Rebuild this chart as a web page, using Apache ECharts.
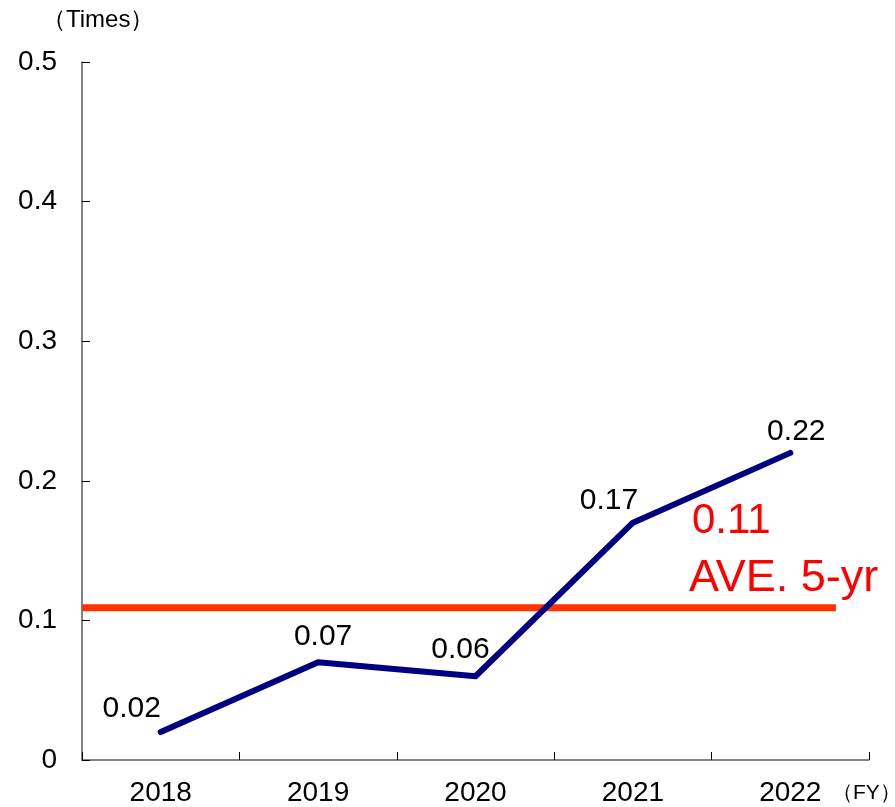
<!DOCTYPE html>
<html>
<head>
<meta charset="utf-8">
<script src="https://cdn.jsdelivr.net/npm/echarts@6/dist/echarts.min.js"></script>
<style>html,body{margin:0;padding:0;background:#fff}#c{width:895px;height:807px}</style>
</head>
<body>
<div id="c"></div>
<script>
const categories = ['2018', '2019', '2020', '2021', '2022'];
const values = [0.02, 0.07, 0.06, 0.17, 0.22];
const valueLabels = ['0.02', '0.07', '0.06', '0.17', '0.22'];
const yTicks = [0, 0.1, 0.2, 0.3, 0.4, 0.5];
const avgValue = 0.109;
const avgSpan = [0, 4.79];
const avgText = ['0.11', 'AVE. 5-yr'];

const FONT = '"Liberation Sans", Arial, sans-serif';
const labelOffsets = [[-29, -8], [5, -10], [-15, -11], [-24, -6], [6, -6]];

const chart = echarts.init(document.getElementById('c'));
chart.setOption({
  animation: false,
  textStyle: { fontFamily: FONT },
  grid: { left: 82, right: 26, top: 62, bottom: 45, containLabel: false },
  xAxis: [{
    type: 'category',
    data: categories,
    boundaryGap: true,
    axisLine: { lineStyle: { color: '#595959', width: 1.5 } },
    axisTick: { show: true, inside: true, length: 8, lineStyle: { color: '#000' } },
    axisLabel: { fontSize: 28, color: '#000', margin: 19, fontFamily: FONT },
    splitLine: { show: false }
  }, {
    type: 'value',
    min: 0, max: 5,
    show: false
  }],
  yAxis: {
    type: 'value',
    min: 0, max: 0.5, interval: 0.1,
    axisLine: { show: true, lineStyle: { color: '#595959', width: 1.5 } },
    axisTick: { show: true, inside: true, length: 8, lineStyle: { color: '#000' } },
    axisLabel: { fontSize: 28, color: '#000', margin: 25, fontFamily: FONT,
      formatter: v => { const t = yTicks.find(x => Math.abs(x - v) < 1e-9); return t === 0 ? '0' : String(+t.toFixed(1)); } },
    splitLine: { show: false }
  },
  series: [{
    type: 'line',
    data: values.map((v, i) => ({
      value: v,
      label: { offset: labelOffsets[i] }
    })),
    xAxisIndex: 0,
    showSymbol: true,
    symbol: 'circle',
    symbolSize: 1,
    itemStyle: { color: '#000080' },
    lineStyle: { color: '#000080', width: 6, cap: 'round', join: 'round' },
    label: {
      show: true, position: 'top', distance: 0,
      fontSize: 30, color: '#000', fontFamily: FONT,
      formatter: p => valueLabels[p.dataIndex]
    },
    z: 3
  }, {
    type: 'line',
    xAxisIndex: 1,
    data: avgSpan.map(x => [x, avgValue]),
    symbol: 'none',
    lineStyle: { color: '#FF3300', width: 7 },
    z: 2
  }],
  graphic: [
    { type: 'text', left: 42, top: 8, style: { text: '（Times）', font: '24px ' + FONT, fill: '#000' } },
    { type: 'text', left: 832, top: 783, style: { text: '（FY）', font: '21px ' + FONT, fill: '#000' } },
    { type: 'text', left: 692, top: 500, style: { text: avgText[0], font: '42px ' + FONT, fill: '#FF0000' } },
    { type: 'text', left: 689, top: 556, style: { text: avgText[1], font: '45px ' + FONT, fill: '#FF0000' } }
  ]
});
</script>
</body>
</html>
